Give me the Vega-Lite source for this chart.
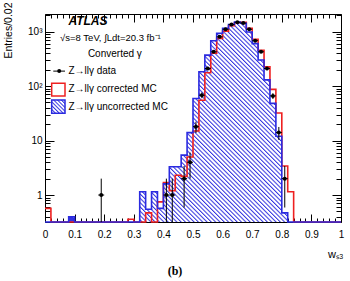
{
  "$schema": "https://vega.github.io/schema/vega-lite/v6.json",
  "width": 296,
  "height": 208,
  "autosize": {"type": "none"},
  "padding": {"left": 45, "top": 14, "right": 9, "bottom": 59},
  "background": "white",
  "config": {
    "font": "Liberation Sans",
    "view": {"stroke": "black", "strokeWidth": 1},
    "mark": {"invalid": "show"},
    "axis": {
      "domain": false, "grid": false, "tickColor": "black", "tickWidth": 1,
      "labelColor": "black", "titleColor": "black", "labelFont": "Liberation Sans",
      "titleFont": "Liberation Sans", "labelFontSize": 10, "titleFontWeight": "normal"
    }
  },
  "title": {"text": "(b)", "orient": "bottom", "font": "Liberation Serif", "fontSize": 12, "fontWeight": "bold", "offset": 7, "dx": -18, "color": "black"},
  "datasets": {
    "hist": [
      {"lo": 0, "corr": 0.57, "uncorr": 0},
      {"lo": 0.02, "corr": 0, "uncorr": 0},
      {"lo": 0.04, "corr": 0, "uncorr": 0},
      {"lo": 0.06, "corr": 0, "uncorr": 0},
      {"lo": 0.08, "corr": 0, "uncorr": 0.4},
      {"lo": 0.1, "corr": 0, "uncorr": 0},
      {"lo": 0.12, "corr": 0, "uncorr": 0},
      {"lo": 0.14, "corr": 0, "uncorr": 0},
      {"lo": 0.16, "corr": 0, "uncorr": 0},
      {"lo": 0.18, "corr": 0, "uncorr": 0},
      {"lo": 0.2, "corr": 0, "uncorr": 0},
      {"lo": 0.22, "corr": 0, "uncorr": 0},
      {"lo": 0.24, "corr": 0, "uncorr": 0},
      {"lo": 0.26, "corr": 0, "uncorr": 0},
      {"lo": 0.28, "corr": 0.36, "uncorr": 0},
      {"lo": 0.3, "corr": 0, "uncorr": 0},
      {"lo": 0.32, "corr": 0, "uncorr": 1.15},
      {"lo": 0.34, "corr": 0.47, "uncorr": 0.55},
      {"lo": 0.36, "corr": 0, "uncorr": 1.15},
      {"lo": 0.38, "corr": 0.75, "uncorr": 0.57},
      {"lo": 0.4, "corr": 1.7, "uncorr": 1.6},
      {"lo": 0.42, "corr": 1.2, "uncorr": 3.3},
      {"lo": 0.44, "corr": 2.3, "uncorr": 3.3},
      {"lo": 0.46, "corr": 2.2, "uncorr": 5.4},
      {"lo": 0.48, "corr": 5, "uncorr": 14},
      {"lo": 0.5, "corr": 15, "uncorr": 59},
      {"lo": 0.52, "corr": 55, "uncorr": 183},
      {"lo": 0.54, "corr": 175, "uncorr": 370},
      {"lo": 0.56, "corr": 400, "uncorr": 680},
      {"lo": 0.58, "corr": 750, "uncorr": 930},
      {"lo": 0.6, "corr": 1020, "uncorr": 1150},
      {"lo": 0.62, "corr": 1280, "uncorr": 1350},
      {"lo": 0.64, "corr": 1450, "uncorr": 1490},
      {"lo": 0.66, "corr": 1480, "uncorr": 1420},
      {"lo": 0.68, "corr": 1150, "uncorr": 980},
      {"lo": 0.7, "corr": 720, "uncorr": 600},
      {"lo": 0.72, "corr": 455, "uncorr": 300},
      {"lo": 0.74, "corr": 225, "uncorr": 130},
      {"lo": 0.76, "corr": 87, "uncorr": 48},
      {"lo": 0.78, "corr": 32, "uncorr": 12},
      {"lo": 0.8, "corr": 3.4, "uncorr": 0.47},
      {"lo": 0.82, "corr": 1.15, "uncorr": 0},
      {"lo": 0.84, "corr": 0, "uncorr": 0},
      {"lo": 0.86, "corr": 0, "uncorr": 0},
      {"lo": 0.88, "corr": 0, "uncorr": 0},
      {"lo": 0.9, "corr": 0, "uncorr": 0},
      {"lo": 0.92, "corr": 0, "uncorr": 0},
      {"lo": 0.94, "corr": 0, "uncorr": 0},
      {"lo": 0.96, "corr": 0, "uncorr": 0},
      {"lo": 0.98, "corr": 0, "uncorr": 0},
      {"lo": 1, "corr": 0, "uncorr": 0}
    ],
    "obs": [
      {"w": 0.19, "w0": 0.18, "w1": 0.2, "n": 1, "lo": 0, "hi": 2},
      {"w": 0.41, "w0": 0.4, "w1": 0.42, "n": 1, "lo": 0, "hi": 2},
      {"w": 0.43, "w0": 0.42, "w1": 0.44, "n": 1, "lo": 0, "hi": 2},
      {"w": 0.47, "w0": 0.46, "w1": 0.48, "n": 2, "lo": 0.59, "hi": 3.41},
      {"w": 0.49, "w0": 0.48, "w1": 0.5, "n": 4, "lo": 2, "hi": 6},
      {"w": 0.51, "w0": 0.5, "w1": 0.52, "n": 18, "lo": 13.76, "hi": 22.24},
      {"w": 0.53, "w0": 0.52, "w1": 0.54, "n": 68, "lo": 59.75, "hi": 76.25},
      {"w": 0.55, "w0": 0.54, "w1": 0.56, "n": 210, "lo": 195.5, "hi": 224.5},
      {"w": 0.57, "w0": 0.56, "w1": 0.58, "n": 425, "lo": 404.4, "hi": 445.6},
      {"w": 0.59, "w0": 0.58, "w1": 0.6, "n": 800, "lo": 771.7, "hi": 828.3},
      {"w": 0.61, "w0": 0.6, "w1": 0.62, "n": 1100, "lo": 1066.8, "hi": 1133.2},
      {"w": 0.63, "w0": 0.62, "w1": 0.64, "n": 1350, "lo": 1313.3, "hi": 1386.7},
      {"w": 0.65, "w0": 0.64, "w1": 0.66, "n": 1480, "lo": 1441.5, "hi": 1518.5},
      {"w": 0.67, "w0": 0.66, "w1": 0.68, "n": 1430, "lo": 1392.2, "hi": 1467.8},
      {"w": 0.69, "w0": 0.68, "w1": 0.7, "n": 1100, "lo": 1066.8, "hi": 1133.2},
      {"w": 0.71, "w0": 0.7, "w1": 0.72, "n": 680, "lo": 653.9, "hi": 706.1},
      {"w": 0.73, "w0": 0.72, "w1": 0.74, "n": 425, "lo": 404.4, "hi": 445.6},
      {"w": 0.75, "w0": 0.74, "w1": 0.76, "n": 210, "lo": 195.5, "hi": 224.5},
      {"w": 0.77, "w0": 0.76, "w1": 0.78, "n": 66, "lo": 57.9, "hi": 74.1},
      {"w": 0.79, "w0": 0.78, "w1": 0.8, "n": 14, "lo": 10.26, "hi": 17.74},
      {"w": 0.81, "w0": 0.8, "w1": 0.82, "n": 2, "lo": 0.59, "hi": 3.41}
    ]
  },
  "layer": [
    {
      "data": {"name": "hist"},
      "mark": {
        "type": "area", "interpolate": "step-after", "opacity": 1, "fillOpacity": 1,
        "fill": {
          "gradient": "linear", "x1": 0, "y1": 0.838, "x2": 1, "y2": 0.162,
          "stops": [
            {"offset": 0, "color": "#3434e0"}, {"offset": 0.004, "color": "#fff"}, {"offset": 0.0075, "color": "#fff"},
            {"offset": 0.01, "color": "#3434e0"}, {"offset": 0.014, "color": "#fff"}, {"offset": 0.0175, "color": "#fff"},
            {"offset": 0.02, "color": "#3434e0"}, {"offset": 0.024, "color": "#fff"}, {"offset": 0.0275, "color": "#fff"},
            {"offset": 0.03, "color": "#3434e0"}, {"offset": 0.034, "color": "#fff"}, {"offset": 0.0375, "color": "#fff"},
            {"offset": 0.04, "color": "#3434e0"}, {"offset": 0.044, "color": "#fff"}, {"offset": 0.0475, "color": "#fff"},
            {"offset": 0.05, "color": "#3434e0"}, {"offset": 0.054, "color": "#fff"}, {"offset": 0.0575, "color": "#fff"},
            {"offset": 0.06, "color": "#3434e0"}, {"offset": 0.064, "color": "#fff"}, {"offset": 0.0675, "color": "#fff"},
            {"offset": 0.07, "color": "#3434e0"}, {"offset": 0.074, "color": "#fff"}, {"offset": 0.0775, "color": "#fff"},
            {"offset": 0.08, "color": "#3434e0"}, {"offset": 0.084, "color": "#fff"}, {"offset": 0.0875, "color": "#fff"},
            {"offset": 0.09, "color": "#3434e0"}, {"offset": 0.094, "color": "#fff"}, {"offset": 0.0975, "color": "#fff"},
            {"offset": 0.1, "color": "#3434e0"}, {"offset": 0.104, "color": "#fff"}, {"offset": 0.1075, "color": "#fff"},
            {"offset": 0.11, "color": "#3434e0"}, {"offset": 0.114, "color": "#fff"}, {"offset": 0.1175, "color": "#fff"},
            {"offset": 0.12, "color": "#3434e0"}, {"offset": 0.124, "color": "#fff"}, {"offset": 0.1275, "color": "#fff"},
            {"offset": 0.13, "color": "#3434e0"}, {"offset": 0.134, "color": "#fff"}, {"offset": 0.1375, "color": "#fff"},
            {"offset": 0.14, "color": "#3434e0"}, {"offset": 0.144, "color": "#fff"}, {"offset": 0.1475, "color": "#fff"},
            {"offset": 0.15, "color": "#3434e0"}, {"offset": 0.154, "color": "#fff"}, {"offset": 0.1575, "color": "#fff"},
            {"offset": 0.16, "color": "#3434e0"}, {"offset": 0.164, "color": "#fff"}, {"offset": 0.1675, "color": "#fff"},
            {"offset": 0.17, "color": "#3434e0"}, {"offset": 0.174, "color": "#fff"}, {"offset": 0.1775, "color": "#fff"},
            {"offset": 0.18, "color": "#3434e0"}, {"offset": 0.184, "color": "#fff"}, {"offset": 0.1875, "color": "#fff"},
            {"offset": 0.19, "color": "#3434e0"}, {"offset": 0.194, "color": "#fff"}, {"offset": 0.1975, "color": "#fff"},
            {"offset": 0.2, "color": "#3434e0"}, {"offset": 0.204, "color": "#fff"}, {"offset": 0.2075, "color": "#fff"},
            {"offset": 0.21, "color": "#3434e0"}, {"offset": 0.214, "color": "#fff"}, {"offset": 0.2175, "color": "#fff"},
            {"offset": 0.22, "color": "#3434e0"}, {"offset": 0.224, "color": "#fff"}, {"offset": 0.2275, "color": "#fff"},
            {"offset": 0.23, "color": "#3434e0"}, {"offset": 0.234, "color": "#fff"}, {"offset": 0.2375, "color": "#fff"},
            {"offset": 0.24, "color": "#3434e0"}, {"offset": 0.244, "color": "#fff"}, {"offset": 0.2475, "color": "#fff"},
            {"offset": 0.25, "color": "#3434e0"}, {"offset": 0.254, "color": "#fff"}, {"offset": 0.2575, "color": "#fff"},
            {"offset": 0.26, "color": "#3434e0"}, {"offset": 0.264, "color": "#fff"}, {"offset": 0.2675, "color": "#fff"},
            {"offset": 0.27, "color": "#3434e0"}, {"offset": 0.274, "color": "#fff"}, {"offset": 0.2775, "color": "#fff"},
            {"offset": 0.28, "color": "#3434e0"}, {"offset": 0.284, "color": "#fff"}, {"offset": 0.2875, "color": "#fff"},
            {"offset": 0.29, "color": "#3434e0"}, {"offset": 0.294, "color": "#fff"}, {"offset": 0.2975, "color": "#fff"},
            {"offset": 0.3, "color": "#3434e0"}, {"offset": 0.304, "color": "#fff"}, {"offset": 0.3075, "color": "#fff"},
            {"offset": 0.31, "color": "#3434e0"}, {"offset": 0.314, "color": "#fff"}, {"offset": 0.3175, "color": "#fff"},
            {"offset": 0.32, "color": "#3434e0"}, {"offset": 0.324, "color": "#fff"}, {"offset": 0.3275, "color": "#fff"},
            {"offset": 0.33, "color": "#3434e0"}, {"offset": 0.334, "color": "#fff"}, {"offset": 0.3375, "color": "#fff"},
            {"offset": 0.34, "color": "#3434e0"}, {"offset": 0.344, "color": "#fff"}, {"offset": 0.3475, "color": "#fff"},
            {"offset": 0.35, "color": "#3434e0"}, {"offset": 0.354, "color": "#fff"}, {"offset": 0.3575, "color": "#fff"},
            {"offset": 0.36, "color": "#3434e0"}, {"offset": 0.364, "color": "#fff"}, {"offset": 0.3675, "color": "#fff"},
            {"offset": 0.37, "color": "#3434e0"}, {"offset": 0.374, "color": "#fff"}, {"offset": 0.3775, "color": "#fff"},
            {"offset": 0.38, "color": "#3434e0"}, {"offset": 0.384, "color": "#fff"}, {"offset": 0.3875, "color": "#fff"},
            {"offset": 0.39, "color": "#3434e0"}, {"offset": 0.394, "color": "#fff"}, {"offset": 0.3975, "color": "#fff"},
            {"offset": 0.4, "color": "#3434e0"}, {"offset": 0.404, "color": "#fff"}, {"offset": 0.4075, "color": "#fff"},
            {"offset": 0.41, "color": "#3434e0"}, {"offset": 0.414, "color": "#fff"}, {"offset": 0.4175, "color": "#fff"},
            {"offset": 0.42, "color": "#3434e0"}, {"offset": 0.424, "color": "#fff"}, {"offset": 0.4275, "color": "#fff"},
            {"offset": 0.43, "color": "#3434e0"}, {"offset": 0.434, "color": "#fff"}, {"offset": 0.4375, "color": "#fff"},
            {"offset": 0.44, "color": "#3434e0"}, {"offset": 0.444, "color": "#fff"}, {"offset": 0.4475, "color": "#fff"},
            {"offset": 0.45, "color": "#3434e0"}, {"offset": 0.454, "color": "#fff"}, {"offset": 0.4575, "color": "#fff"},
            {"offset": 0.46, "color": "#3434e0"}, {"offset": 0.464, "color": "#fff"}, {"offset": 0.4675, "color": "#fff"},
            {"offset": 0.47, "color": "#3434e0"}, {"offset": 0.474, "color": "#fff"}, {"offset": 0.4775, "color": "#fff"},
            {"offset": 0.48, "color": "#3434e0"}, {"offset": 0.484, "color": "#fff"}, {"offset": 0.4875, "color": "#fff"},
            {"offset": 0.49, "color": "#3434e0"}, {"offset": 0.494, "color": "#fff"}, {"offset": 0.4975, "color": "#fff"},
            {"offset": 0.5, "color": "#3434e0"}, {"offset": 0.504, "color": "#fff"}, {"offset": 0.5075, "color": "#fff"},
            {"offset": 0.51, "color": "#3434e0"}, {"offset": 0.514, "color": "#fff"}, {"offset": 0.5175, "color": "#fff"},
            {"offset": 0.52, "color": "#3434e0"}, {"offset": 0.524, "color": "#fff"}, {"offset": 0.5275, "color": "#fff"},
            {"offset": 0.53, "color": "#3434e0"}, {"offset": 0.534, "color": "#fff"}, {"offset": 0.5375, "color": "#fff"},
            {"offset": 0.54, "color": "#3434e0"}, {"offset": 0.544, "color": "#fff"}, {"offset": 0.5475, "color": "#fff"},
            {"offset": 0.55, "color": "#3434e0"}, {"offset": 0.554, "color": "#fff"}, {"offset": 0.5575, "color": "#fff"},
            {"offset": 0.56, "color": "#3434e0"}, {"offset": 0.564, "color": "#fff"}, {"offset": 0.5675, "color": "#fff"},
            {"offset": 0.57, "color": "#3434e0"}, {"offset": 0.574, "color": "#fff"}, {"offset": 0.5775, "color": "#fff"},
            {"offset": 0.58, "color": "#3434e0"}, {"offset": 0.584, "color": "#fff"}, {"offset": 0.5875, "color": "#fff"},
            {"offset": 0.59, "color": "#3434e0"}, {"offset": 0.594, "color": "#fff"}, {"offset": 0.5975, "color": "#fff"},
            {"offset": 0.6, "color": "#3434e0"}, {"offset": 0.604, "color": "#fff"}, {"offset": 0.6075, "color": "#fff"},
            {"offset": 0.61, "color": "#3434e0"}, {"offset": 0.614, "color": "#fff"}, {"offset": 0.6175, "color": "#fff"},
            {"offset": 0.62, "color": "#3434e0"}, {"offset": 0.624, "color": "#fff"}, {"offset": 0.6275, "color": "#fff"},
            {"offset": 0.63, "color": "#3434e0"}, {"offset": 0.634, "color": "#fff"}, {"offset": 0.6375, "color": "#fff"},
            {"offset": 0.64, "color": "#3434e0"}, {"offset": 0.644, "color": "#fff"}, {"offset": 0.6475, "color": "#fff"},
            {"offset": 0.65, "color": "#3434e0"}, {"offset": 0.654, "color": "#fff"}, {"offset": 0.6575, "color": "#fff"},
            {"offset": 0.66, "color": "#3434e0"}, {"offset": 0.664, "color": "#fff"}, {"offset": 0.6675, "color": "#fff"},
            {"offset": 0.67, "color": "#3434e0"}, {"offset": 0.674, "color": "#fff"}, {"offset": 0.6775, "color": "#fff"},
            {"offset": 0.68, "color": "#3434e0"}, {"offset": 0.684, "color": "#fff"}, {"offset": 0.6875, "color": "#fff"},
            {"offset": 0.69, "color": "#3434e0"}, {"offset": 0.694, "color": "#fff"}, {"offset": 0.6975, "color": "#fff"},
            {"offset": 0.7, "color": "#3434e0"}, {"offset": 0.704, "color": "#fff"}, {"offset": 0.7075, "color": "#fff"},
            {"offset": 0.71, "color": "#3434e0"}, {"offset": 0.714, "color": "#fff"}, {"offset": 0.7175, "color": "#fff"},
            {"offset": 0.72, "color": "#3434e0"}, {"offset": 0.724, "color": "#fff"}, {"offset": 0.7275, "color": "#fff"},
            {"offset": 0.73, "color": "#3434e0"}, {"offset": 0.734, "color": "#fff"}, {"offset": 0.7375, "color": "#fff"},
            {"offset": 0.74, "color": "#3434e0"}, {"offset": 0.744, "color": "#fff"}, {"offset": 0.7475, "color": "#fff"},
            {"offset": 0.75, "color": "#3434e0"}, {"offset": 0.754, "color": "#fff"}, {"offset": 0.7575, "color": "#fff"},
            {"offset": 0.76, "color": "#3434e0"}, {"offset": 0.764, "color": "#fff"}, {"offset": 0.7675, "color": "#fff"},
            {"offset": 0.77, "color": "#3434e0"}, {"offset": 0.774, "color": "#fff"}, {"offset": 0.7775, "color": "#fff"},
            {"offset": 0.78, "color": "#3434e0"}, {"offset": 0.784, "color": "#fff"}, {"offset": 0.7875, "color": "#fff"},
            {"offset": 0.79, "color": "#3434e0"}, {"offset": 0.794, "color": "#fff"}, {"offset": 0.7975, "color": "#fff"},
            {"offset": 0.8, "color": "#3434e0"}, {"offset": 0.804, "color": "#fff"}, {"offset": 0.8075, "color": "#fff"},
            {"offset": 0.81, "color": "#3434e0"}, {"offset": 0.814, "color": "#fff"}, {"offset": 0.8175, "color": "#fff"},
            {"offset": 0.82, "color": "#3434e0"}, {"offset": 0.824, "color": "#fff"}, {"offset": 0.8275, "color": "#fff"},
            {"offset": 0.83, "color": "#3434e0"}, {"offset": 0.834, "color": "#fff"}, {"offset": 0.8375, "color": "#fff"},
            {"offset": 0.84, "color": "#3434e0"}, {"offset": 0.844, "color": "#fff"}, {"offset": 0.8475, "color": "#fff"},
            {"offset": 0.85, "color": "#3434e0"}, {"offset": 0.854, "color": "#fff"}, {"offset": 0.8575, "color": "#fff"},
            {"offset": 0.86, "color": "#3434e0"}, {"offset": 0.864, "color": "#fff"}, {"offset": 0.8675, "color": "#fff"},
            {"offset": 0.87, "color": "#3434e0"}, {"offset": 0.874, "color": "#fff"}, {"offset": 0.8775, "color": "#fff"},
            {"offset": 0.88, "color": "#3434e0"}, {"offset": 0.884, "color": "#fff"}, {"offset": 0.8875, "color": "#fff"},
            {"offset": 0.89, "color": "#3434e0"}, {"offset": 0.894, "color": "#fff"}, {"offset": 0.8975, "color": "#fff"},
            {"offset": 0.9, "color": "#3434e0"}, {"offset": 0.904, "color": "#fff"}, {"offset": 0.9075, "color": "#fff"},
            {"offset": 0.91, "color": "#3434e0"}, {"offset": 0.914, "color": "#fff"}, {"offset": 0.9175, "color": "#fff"},
            {"offset": 0.92, "color": "#3434e0"}, {"offset": 0.924, "color": "#fff"}, {"offset": 0.9275, "color": "#fff"},
            {"offset": 0.93, "color": "#3434e0"}, {"offset": 0.934, "color": "#fff"}, {"offset": 0.9375, "color": "#fff"},
            {"offset": 0.94, "color": "#3434e0"}, {"offset": 0.944, "color": "#fff"}, {"offset": 0.9475, "color": "#fff"},
            {"offset": 0.95, "color": "#3434e0"}, {"offset": 0.954, "color": "#fff"}, {"offset": 0.9575, "color": "#fff"},
            {"offset": 0.96, "color": "#3434e0"}, {"offset": 0.964, "color": "#fff"}, {"offset": 0.9675, "color": "#fff"},
            {"offset": 0.97, "color": "#3434e0"}, {"offset": 0.974, "color": "#fff"}, {"offset": 0.9775, "color": "#fff"},
            {"offset": 0.98, "color": "#3434e0"}, {"offset": 0.984, "color": "#fff"}, {"offset": 0.9875, "color": "#fff"},
            {"offset": 0.99, "color": "#3434e0"}, {"offset": 0.994, "color": "#fff"}, {"offset": 0.9975, "color": "#fff"},
            {"offset": 1, "color": "#3434e0"}
          ]
        }
      },
      "encoding": {
        "x": {
          "field": "lo", "type": "quantitative",
          "scale": {"domain": [0, 1], "nice": false, "zero": false},
          "axis": {
            "orient": "bottom",
            "values": [0, 0.02, 0.04, 0.06, 0.08, 0.1, 0.12, 0.14, 0.16, 0.18, 0.2, 0.22, 0.24, 0.26, 0.28, 0.3, 0.32, 0.34, 0.36, 0.38, 0.4, 0.42, 0.44, 0.46, 0.48, 0.5, 0.52, 0.54, 0.56, 0.58, 0.6, 0.62, 0.64, 0.66, 0.68, 0.7, 0.72, 0.74, 0.76, 0.78, 0.8, 0.82, 0.84, 0.86, 0.88, 0.9, 0.92, 0.94, 0.96, 0.98, 1],
            "format": "~g",
            "labelExpr": "abs(datum.value*10 - round(datum.value*10)) < 0.001 ? datum.label : ''",
            "tickSize": {"condition": {"test": "abs(datum.value*10 - round(datum.value*10)) < 0.001", "value": -8}, "value": -4},
            "labelPadding": 15, "labelOverlap": false, "labelFlush": false, "labelBound": false,
            "title": "wₛ₃", "titleAnchor": "end", "titleAlign": "right", "titleX": 298, "titleY": 35,
            "titleBaseline": "alphabetic", "titleFontSize": 11
          }
        },
        "y": {
          "field": "uncorr", "type": "quantitative",
          "scale": {"type": "log", "domain": [0.32, 2100], "nice": false, "clamp": true},
          "axis": {
            "orient": "left",
            "values": [0.4, 0.5, 0.6, 0.7, 0.8, 0.9, 1, 2, 3, 4, 5, 6, 7, 8, 9, 10, 20, 30, 40, 50, 60, 70, 80, 90, 100, 200, 300, 400, 500, 600, 700, 800, 900, 1000, 2000],
            "labelExpr": "datum.value == 1000 ? '10³' : datum.value == 100 ? '10²' : datum.value == 10 ? '10' : datum.value == 1 ? '1' : ''",
            "tickSize": {"condition": {"test": "datum.value == 1 || datum.value == 10 || datum.value == 100 || datum.value == 1000", "value": -9}, "value": -5},
            "labelPadding": 12, "labelOverlap": false, "labelFlush": false, "labelBound": false,
            "title": "Entries/0.02", "titleAnchor": "end", "titleAlign": "right", "titleAngle": -90,
            "titleX": -37, "titleY": -12, "titleBaseline": "middle", "titleFontSize": 10.5
          }
        },
        "y2": {"datum": 0.32}
      }
    },
    {
      "data": {"name": "hist"},
      "mark": {"type": "line", "interpolate": "step-after", "stroke": "#ee2020", "strokeWidth": 1.6},
      "encoding": {
        "x": {
          "field": "lo", "type": "quantitative",
          "axis": {
            "orient": "top", "labels": false, "title": null,
            "values": [0, 0.02, 0.04, 0.06, 0.08, 0.1, 0.12, 0.14, 0.16, 0.18, 0.2, 0.22, 0.24, 0.26, 0.28, 0.3, 0.32, 0.34, 0.36, 0.38, 0.4, 0.42, 0.44, 0.46, 0.48, 0.5, 0.52, 0.54, 0.56, 0.58, 0.6, 0.62, 0.64, 0.66, 0.68, 0.7, 0.72, 0.74, 0.76, 0.78, 0.8, 0.82, 0.84, 0.86, 0.88, 0.9, 0.92, 0.94, 0.96, 0.98, 1],
            "tickSize": {"condition": {"test": "abs(datum.value*10 - round(datum.value*10)) < 0.001", "value": -8}, "value": -4}
          }
        },
        "y": {
          "field": "corr", "type": "quantitative",
          "axis": {
            "orient": "right", "labels": false, "title": null,
            "values": [0.4, 0.5, 0.6, 0.7, 0.8, 0.9, 1, 2, 3, 4, 5, 6, 7, 8, 9, 10, 20, 30, 40, 50, 60, 70, 80, 90, 100, 200, 300, 400, 500, 600, 700, 800, 900, 1000, 2000],
            "tickSize": {"condition": {"test": "datum.value == 1 || datum.value == 10 || datum.value == 100 || datum.value == 1000", "value": -9}, "value": -5}
          }
        }
      }
    },
    {
      "data": {"name": "hist"},
      "mark": {"type": "line", "interpolate": "step-after", "stroke": "#2a2ae0", "strokeWidth": 1.6},
      "encoding": {
        "x": {"field": "lo", "type": "quantitative", "axis": null},
        "y": {"field": "uncorr", "type": "quantitative", "axis": null}
      }
    },
    {
      "data": {"name": "obs"},
      "mark": {"type": "rule", "color": "black", "strokeWidth": 1},
      "encoding": {
        "x": {"field": "w0", "type": "quantitative", "axis": null},
        "x2": {"field": "w1"},
        "y": {"field": "n", "type": "quantitative", "axis": null}
      }
    },
    {
      "data": {"name": "obs"},
      "mark": {"type": "rule", "color": "black", "strokeWidth": 1},
      "encoding": {
        "x": {"field": "w", "type": "quantitative", "axis": null},
        "y": {"field": "lo", "type": "quantitative", "axis": null},
        "y2": {"field": "hi"}
      }
    },
    {
      "data": {"name": "obs"},
      "mark": {"type": "point", "shape": "circle", "filled": true, "color": "black", "opacity": 1, "size": 16},
      "encoding": {
        "x": {"field": "w", "type": "quantitative", "axis": null},
        "y": {"field": "n", "type": "quantitative", "axis": null}
      }
    },
    {
      "data": {"values": [{}]},
      "mark": {"type": "text", "text": "ATLAS", "font": "Liberation Sans", "fontSize": 12, "fontWeight": "bold", "fontStyle": "italic", "align": "left", "baseline": "middle", "color": "black"},
      "encoding": {"x": {"datum": 0.079, "axis": null}, "y": {"datum": 1550, "axis": null}}
    },
    {
      "data": {"values": [{}]},
      "mark": {"type": "text", "text": "√s=8 TeV, ∫Ldt=20.3 fb⁻¹", "font": "Liberation Sans", "fontSize": 9.5, "align": "left", "baseline": "middle", "color": "black"},
      "encoding": {"x": {"datum": 0.051, "axis": null}, "y": {"datum": 760, "axis": null}}
    },
    {
      "data": {"values": [{}]},
      "mark": {"type": "text", "text": "Converted γ", "font": "Liberation Sans", "fontSize": 10, "align": "center", "baseline": "middle", "color": "black"},
      "encoding": {"x": {"datum": 0.236, "axis": null}, "y": {"datum": 386, "axis": null}}
    },
    {
      "data": {"values": [{}]},
      "mark": {"type": "rule", "color": "black", "strokeWidth": 1},
      "encoding": {"x": {"datum": 0.028, "axis": null}, "x2": {"datum": 0.0676}, "y": {"datum": 188, "axis": null}}
    },
    {
      "data": {"values": [{}]},
      "mark": {"type": "point", "shape": "circle", "filled": true, "color": "black", "opacity": 1, "size": 16},
      "encoding": {"x": {"datum": 0.048, "axis": null}, "y": {"datum": 188, "axis": null}}
    },
    {
      "data": {"values": [{}]},
      "mark": {"type": "text", "text": "Z→llγ data", "font": "Liberation Sans", "fontSize": 10, "align": "left", "baseline": "middle", "color": "black"},
      "encoding": {"x": {"datum": 0.079, "axis": null}, "y": {"datum": 188, "axis": null}}
    },
    {
      "data": {"values": [{}]},
      "mark": {"type": "rect", "fill": "white", "stroke": "#ee2020", "strokeWidth": 1.5},
      "encoding": {"x": {"datum": 0.0226, "axis": null}, "x2": {"datum": 0.0676}, "y": {"datum": 112, "axis": null}, "y2": {"datum": 65.6}}
    },
    {
      "data": {"values": [{}]},
      "mark": {"type": "text", "text": "Z→llγ corrected MC", "font": "Liberation Sans", "fontSize": 10, "align": "left", "baseline": "middle", "color": "black"},
      "encoding": {"x": {"datum": 0.079, "axis": null}, "y": {"datum": 87, "axis": null}}
    },
    {
      "data": {"values": [{}]},
      "mark": {
        "type": "rect", "stroke": "#2a2ae0", "strokeWidth": 1.5,
        "fill": {
          "gradient": "linear", "x1": 0, "y1": 1, "x2": 1, "y2": 0,
          "stops": [
            {"offset": 0, "color": "#3434e0"}, {"offset": 0.06, "color": "#fff"}, {"offset": 0.1, "color": "#fff"},
            {"offset": 0.1429, "color": "#3434e0"}, {"offset": 0.2029, "color": "#fff"}, {"offset": 0.2429, "color": "#fff"},
            {"offset": 0.2857, "color": "#3434e0"}, {"offset": 0.3457, "color": "#fff"}, {"offset": 0.3857, "color": "#fff"},
            {"offset": 0.4286, "color": "#3434e0"}, {"offset": 0.4886, "color": "#fff"}, {"offset": 0.5286, "color": "#fff"},
            {"offset": 0.5714, "color": "#3434e0"}, {"offset": 0.6314, "color": "#fff"}, {"offset": 0.6714, "color": "#fff"},
            {"offset": 0.7143, "color": "#3434e0"}, {"offset": 0.7743, "color": "#fff"}, {"offset": 0.8143, "color": "#fff"},
            {"offset": 0.8571, "color": "#3434e0"}, {"offset": 0.9171, "color": "#fff"}, {"offset": 0.9571, "color": "#fff"},
            {"offset": 1, "color": "#3434e0"}
          ]
        }
      },
      "encoding": {"x": {"datum": 0.0226, "axis": null}, "x2": {"datum": 0.0676}, "y": {"datum": 55.4, "axis": null}, "y2": {"datum": 31.6}}
    },
    {
      "data": {"values": [{}]},
      "mark": {"type": "text", "text": "Z→llγ uncorrected MC", "font": "Liberation Sans", "fontSize": 10, "align": "left", "baseline": "middle", "color": "black"},
      "encoding": {"x": {"datum": 0.079, "axis": null}, "y": {"datum": 40.6, "axis": null}}
    }
  ],
  "resolve": {"axis": {"x": "independent", "y": "independent"}}
}
